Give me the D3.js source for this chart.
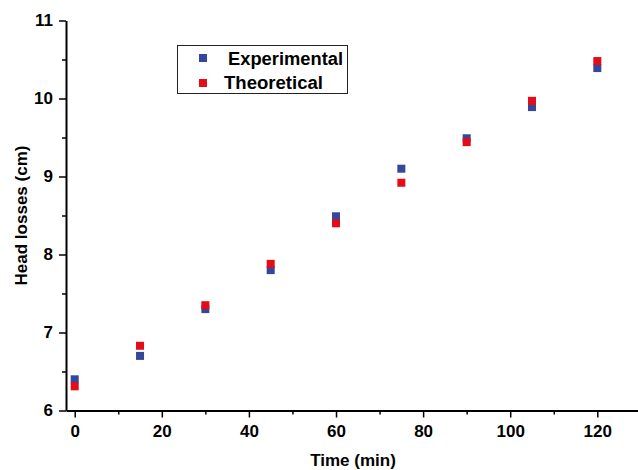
<!DOCTYPE html>
<html>
<head>
<meta charset="utf-8">
<script src="https://cdn.jsdelivr.net/npm/d3@7"></script>
<style>
  body { margin: 0; background: #fff; }
  svg text { font-family: "Liberation Sans", Arial, sans-serif; font-weight: bold; }
</style>
</head>
<body>
<div id="chart"></div>
<script>
// data
const times = [0, 15, 30, 45, 60, 75, 90, 105, 120];
const experimental = [6.40, 6.70, 7.30, 7.80, 8.49, 9.10, 9.49, 9.89, 10.39];
const theoretical = [6.31, 6.83, 7.35, 7.88, 8.40, 8.92, 9.44, 9.97, 10.48];
const series_names = ["Experimental", "Theoretical"];
const x_ticks = [0, 20, 40, 60, 80, 100, 120];
const y_ticks = [6, 7, 8, 9, 10, 11];

const width = 638, height = 470;
const colors = ["#34479a", "#e30c17"];
const marker = 8;

let svg = d3.select("#chart").append("svg")
  .attr("width", width)
  .attr("height", height);

let x = d3.scaleLinear().domain([-2, 130]).range([66, 66 + 132 * 4.355]);
let y = d3.scaleLinear().domain([6, 11]).range([410.5, 20.5]);

// minor ticks
let x_minor = d3.range(0, 131, 10).filter((v) => x_ticks.indexOf(v) < 0);
let y_minor = d3.range(6.5, 11, 1);

svg.append("g")
  .attr("transform", "translate(0," + y(6) + ")")
  .call(d3.axisBottom(x).tickValues(x_minor).tickSize(4).tickFormat(""))
  .call((g) => g.select(".domain").remove())
  .selectAll("line").attr("stroke-width", 1.5);

svg.append("g")
  .attr("transform", "translate(" + x(-2) + ",0)")
  .call(d3.axisLeft(y).tickValues(y_minor).tickSize(4).tickFormat(""))
  .call((g) => g.select(".domain").remove())
  .selectAll("line").attr("stroke-width", 1.5);

// major axes
let x_axis = svg.append("g")
  .attr("transform", "translate(0," + y(6) + ")")
  .call(d3.axisBottom(x).tickValues(x_ticks).tickSize(7).tickSizeOuter(0));
x_axis.select(".domain").attr("stroke-width", 2);
x_axis.selectAll(".tick line").attr("stroke-width", 1.5);
x_axis.selectAll(".tick text").attr("font-size", 17).attr("dy", "0.95em").attr("fill", "#000");

let y_axis = svg.append("g")
  .attr("transform", "translate(" + x(-2) + ",0)")
  .call(d3.axisLeft(y).tickValues(y_ticks).tickSize(7).tickSizeOuter(0)
    .tickFormat(d3.format("d")));
y_axis.select(".domain").attr("stroke-width", 2);
y_axis.selectAll(".tick line").attr("stroke-width", 1.5);
y_axis.selectAll(".tick text").attr("font-size", 17).attr("x", -13).attr("fill", "#000");

// axis titles
svg.append("text")
  .attr("x", 353).attr("y", 466)
  .attr("text-anchor", "middle")
  .attr("font-size", 17)
  .text("Time (min)");

svg.append("text")
  .attr("transform", "translate(27," + ((y(6) + y(11)) / 2) + ") rotate(-90)")
  .attr("text-anchor", "middle")
  .attr("font-size", 17)
  .text("Head losses (cm)");

// markers
[experimental, theoretical].forEach((vals, i) => {
  svg.append("g").selectAll("rect")
    .data(times.map((t, j) => ({ t: t, v: vals[j] })))
    .enter()
    .append("rect")
    .attr("x", (d) => x(d.t) - marker / 2)
    .attr("y", (d) => y(d.v) - marker / 2)
    .attr("width", marker)
    .attr("height", marker)
    .attr("fill", colors[i]);
});

// legend
let legend = svg.append("g");
legend.append("rect")
  .attr("x", 177.5).attr("y", 45.5)
  .attr("width", 170).attr("height", 48)
  .attr("fill", "#fff")
  .attr("stroke", "#222")
  .attr("stroke-width", 1);

series_names.forEach((name, i) => {
  legend.append("rect")
    .attr("x", 199).attr("y", 54 + i * 25)
    .attr("width", marker).attr("height", marker)
    .attr("fill", colors[i]);
  legend.append("text")
    .attr("x", i == 0 ? 228 : 224)
    .attr("y", 65 + i * 24)
    .attr("font-size", 18)
    .attr("textLength", i == 0 ? 115 : 99)
    .attr("lengthAdjust", "spacingAndGlyphs")
    .text(name);
});
</script>
</body>
</html>
